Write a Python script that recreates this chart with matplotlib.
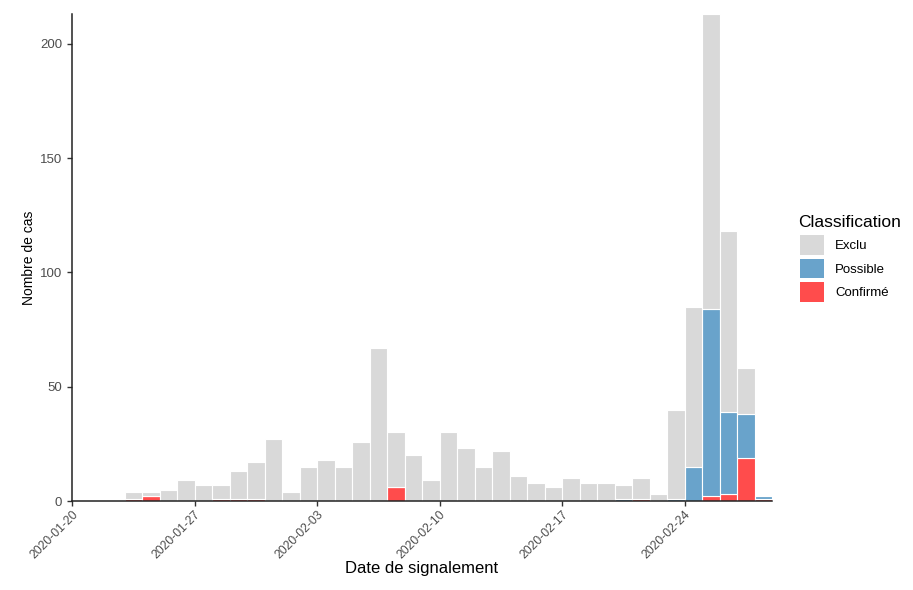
import matplotlib
matplotlib.use("Agg")
import matplotlib.pyplot as plt
import matplotlib.dates as mdates
from matplotlib.patches import Patch
import numpy as np
import pandas as pd

plt.rcParams['font.family'] = ['Liberation Sans', 'DejaVu Sans']

dates = pd.date_range("2020-01-23", "2020-02-28", freq="D")
confirme = [1, 2, 0, 0, 0, 1, 1, 1, 0, 0, 0, 0, 0, 0, 0, 6, 0, 0, 0, 0, 0, 0, 0, 0, 0, 0, 0, 0, 0, 1, 0, 0, 0, 2, 3, 19, 1]
possible = [0, 0, 0, 0, 0, 0, 0, 0, 0, 0, 0, 0, 0, 0, 0, 0, 0, 0, 0, 0, 0, 0, 0, 0, 0, 0, 0, 0, 1, 0, 0, 1, 15, 82, 36, 19, 1]
exclu = [3, 2, 5, 9, 7, 6, 12, 16, 27, 4, 15, 18, 15, 26, 67, 24, 20, 9, 30, 23, 15, 22, 11, 8, 6, 10, 8, 8, 6, 9, 3, 39, 70, 129, 79, 20, 0]

tick_dates = ["2020-01-20", "2020-01-27", "2020-02-03", "2020-02-10", "2020-02-17", "2020-02-24"]
y_ticks = [0, 50, 100, 150, 200]
labels = ["Exclu", "Possible", "Confirmé"]
colors = ["#D9D9D9", "#69A3CB", "#FF4C4C"]

fig = plt.figure(figsize=(9.13, 5.90), dpi=100)
ax = fig.add_axes([72/913, 1-501/590, (772-72)/913, (501-14)/590])

x = mdates.date2num(dates)
c = np.array(confirme)
p = np.array(possible)
e = np.array(exclu)
kw = dict(width=1.0, align='edge', edgecolor='white', linewidth=0.8)
ax.bar(x, c, color=colors[2], **kw)
ax.bar(x, p, bottom=c, color=colors[1], **kw)
ax.bar(x, e, bottom=c + p, color=colors[0], **kw)

ax.set_xlim(mdates.date2num(pd.Timestamp("2020-01-20")), mdates.date2num(pd.Timestamp("2020-02-29")))
ax.set_ylim(0, 213)
ax.set_xticks(mdates.date2num(pd.to_datetime(tick_dates)))
ax.set_xticklabels(tick_dates, rotation=45, ha='right', rotation_mode='anchor')
ax.set_yticks(y_ticks)
ax.set_yticklabels([str(v) for v in y_ticks])

for s in ['top', 'right']:
    ax.spines[s].set_visible(False)
for s in ['left', 'bottom']:
    ax.spines[s].set_color('#222222')
    ax.spines[s].set_linewidth(1.1)
ax.tick_params(axis='both', colors='#333333', labelcolor='#4D4D4D', length=3.5, width=1)
ax.tick_params(axis='y', labelsize=9.5)
ax.tick_params(axis='x', labelsize=8.8, pad=2)

ax.set_xlabel("Date de signalement", fontsize=12, color='black')
ax.xaxis.set_label_coords(0.5, (501-561)/487)
ax.set_ylabel("Nombre de cas", fontsize=10, color='black', labelpad=3)

fig.text(798/913, 1-227/590, "Classification", fontsize=12.5, ha='left', va='baseline', color='black')
handles = [Patch(facecolor=col, edgecolor='none') for col in colors]
leg = fig.legend(handles, labels, loc='upper left',
                 bbox_to_anchor=(795/913, 1-230/590), frameon=False,
                 fontsize=9.5, handlelength=1.8, handleheight=1.9,
                 labelspacing=0.3, handletextpad=0.85, borderaxespad=0)

fig.savefig("out.png", dpi=100)
